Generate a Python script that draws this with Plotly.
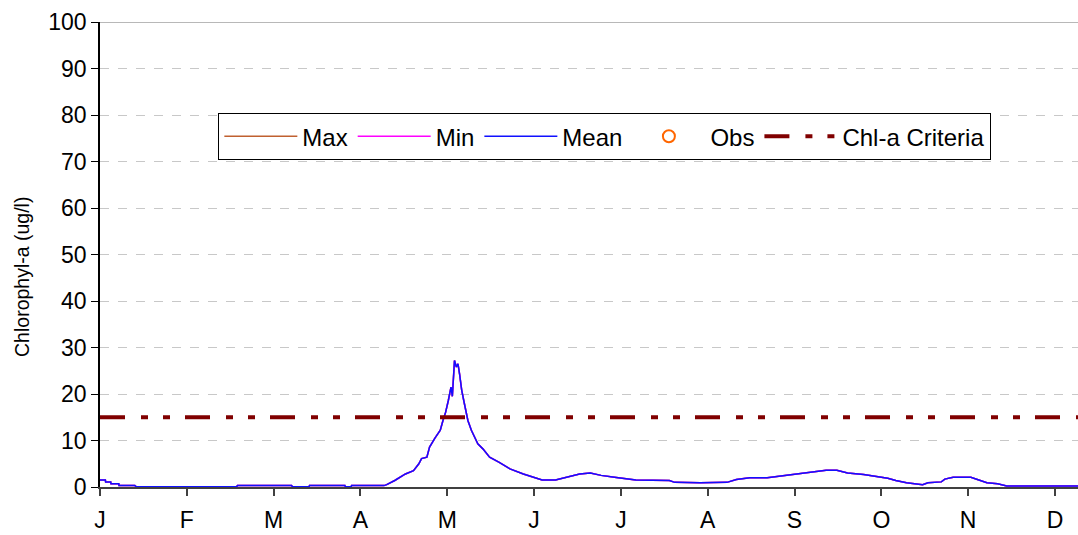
import plotly.graph_objects as go

# ---- data ----
days = [0, 2, 2.1, 4, 4.1, 7, 7.1, 13, 13.6, 51, 51.3, 71.5, 71.8, 78, 78.2, 91.4, 91.6, 93.7, 93.9,
        106, 107, 110, 114, 117, 119, 120, 122, 123, 125, 126, 127, 128, 129, 130, 131, 131.5,
        132.3, 133, 133.6, 134.2, 135, 136, 137.3, 138.6, 139.8, 141, 142.9, 145.4, 149, 153,
        158, 162, 165, 170, 174, 179, 183, 187, 192, 200, 212.5, 214.5, 224, 234, 237.5, 242.5,
        249, 256, 264, 266, 271, 275, 279, 285, 290, 294, 297, 301, 307, 309, 314, 315.3, 318.4,
        325, 328, 331, 335, 338.4, 365]
mean_vals = [1.5, 1.5, 1.1, 1.1, 0.7, 0.7, 0.3, 0.3, 0.05, 0.05, 0.3, 0.3, 0.05, 0.05, 0.3, 0.3, 0.05, 0.05, 0.3,
             0.3, 0.5, 1.4, 2.8, 3.5, 5.0, 6.1, 6.4, 8.6, 10.5, 11.5, 12.2, 14.3, 16.1, 18.6, 21.5, 19.5,
             27.2, 25.8, 26.5, 24.3, 20.8, 17.9, 14.3, 12.2, 10.7, 9.3, 8.2, 6.4, 5.3, 3.9,
             2.8, 2.0, 1.5, 1.5, 2.1, 2.8, 3.0, 2.5, 2.1, 1.5, 1.4, 1.0, 0.9, 1.0, 1.6, 2.0,
             2.0, 2.5, 3.0, 3.2, 3.6, 3.6, 3.0, 2.7, 2.3, 1.9, 1.4, 0.9, 0.5, 0.9, 1.1, 1.7, 2.1,
             2.1, 1.5, 0.9, 0.7, 0.2, 0.2]
max_vals = list(mean_vals)
min_vals = list(mean_vals)
obs_days = [None]
obs_vals = [None]
criteria_days = [0, 365]
criteria_vals = [15, 15]

month_labels = ["J", "F", "M", "A", "M", "J", "J", "A", "S", "O", "N", "D"]
tick_step = 32.4  # days between month ticks on the original axis
tick_pos = [i * tick_step for i in range(len(month_labels))]

FONT = "Arial, Liberation Sans, sans-serif"

fig = go.Figure()
fig.add_trace(go.Scatter(x=days, y=max_vals, mode="lines", name="Max",
                         line=dict(color="#C06030", width=1.5)))
fig.add_trace(go.Scatter(x=days, y=min_vals, mode="lines", name="Min",
                         line=dict(color="#FF00FF", width=1.5)))
fig.add_trace(go.Scatter(x=days, y=mean_vals, mode="lines", name="Mean",
                         line=dict(color="#1010FF", width=1.5)))
fig.add_trace(go.Scatter(x=obs_days, y=obs_vals, mode="markers", name="Obs",
                         marker=dict(symbol="circle-open", color="#FF6600", size=12,
                                     line=dict(width=2, color="#FF6600"))))
fig.add_trace(go.Scatter(x=criteria_days, y=criteria_vals, mode="lines", name="Chl-a Criteria",
                         line=dict(color="#800000", width=4,
                                   dash="25px,16px,7px,15px,7px,15px")))

fig.add_shape(type="line", xref="paper", yref="y", x0=0, x1=1, y0=100, y1=100,
              line=dict(color="#A0A0A0", width=1.5))

fig.add_annotation(text="Chlorophyl-a (ug/l)", xref="paper", yref="paper",
                   x=-0.0798, y=0.4516, xanchor="center", yanchor="middle",
                   textangle=-90, showarrow=False,
                   font=dict(family=FONT, size=19.5, color="black"))

fig.update_layout(
    width=1078, height=535,
    margin=dict(l=100, r=0, t=22, b=48, autoexpand=False),
    paper_bgcolor="white", plot_bgcolor="white",
    font=dict(family=FONT, size=23, color="black"),
    showlegend=True,
    legend=dict(orientation="h", x=0.121, y=0.804, xanchor="left", yanchor="top",
                bordercolor="black", borderwidth=1, bgcolor="white",
                font=dict(family=FONT, size=24, color="black"),
                itemwidth=73),
    xaxis=dict(range=[0, 365], tickvals=tick_pos, ticktext=month_labels, automargin=False,
               showgrid=False, zeroline=False, showline=True, linecolor="#404040", linewidth=1.5,
               ticks="outside", ticklen=7, tickcolor="#404040", tickwidth=1.5,
               ticklabelstandoff=5,
               tickfont=dict(family=FONT, size=23, color="black")),
    yaxis=dict(range=[0, 100], tickvals=list(range(0, 101, 10)), automargin=False,
               showgrid=True, gridcolor="#C8C8C8", griddash="dash", gridwidth=1,
               zeroline=False, showline=True, linecolor="black", linewidth=1.5,
               ticks="outside", ticklen=7, tickcolor="black",
               tickfont=dict(family=FONT, size=23, color="black")),
)

fig.write_html("out.html", config={"displayModeBar": False},
               post_script="document.body.style.margin='0';document.body.style.overflow='hidden';")
